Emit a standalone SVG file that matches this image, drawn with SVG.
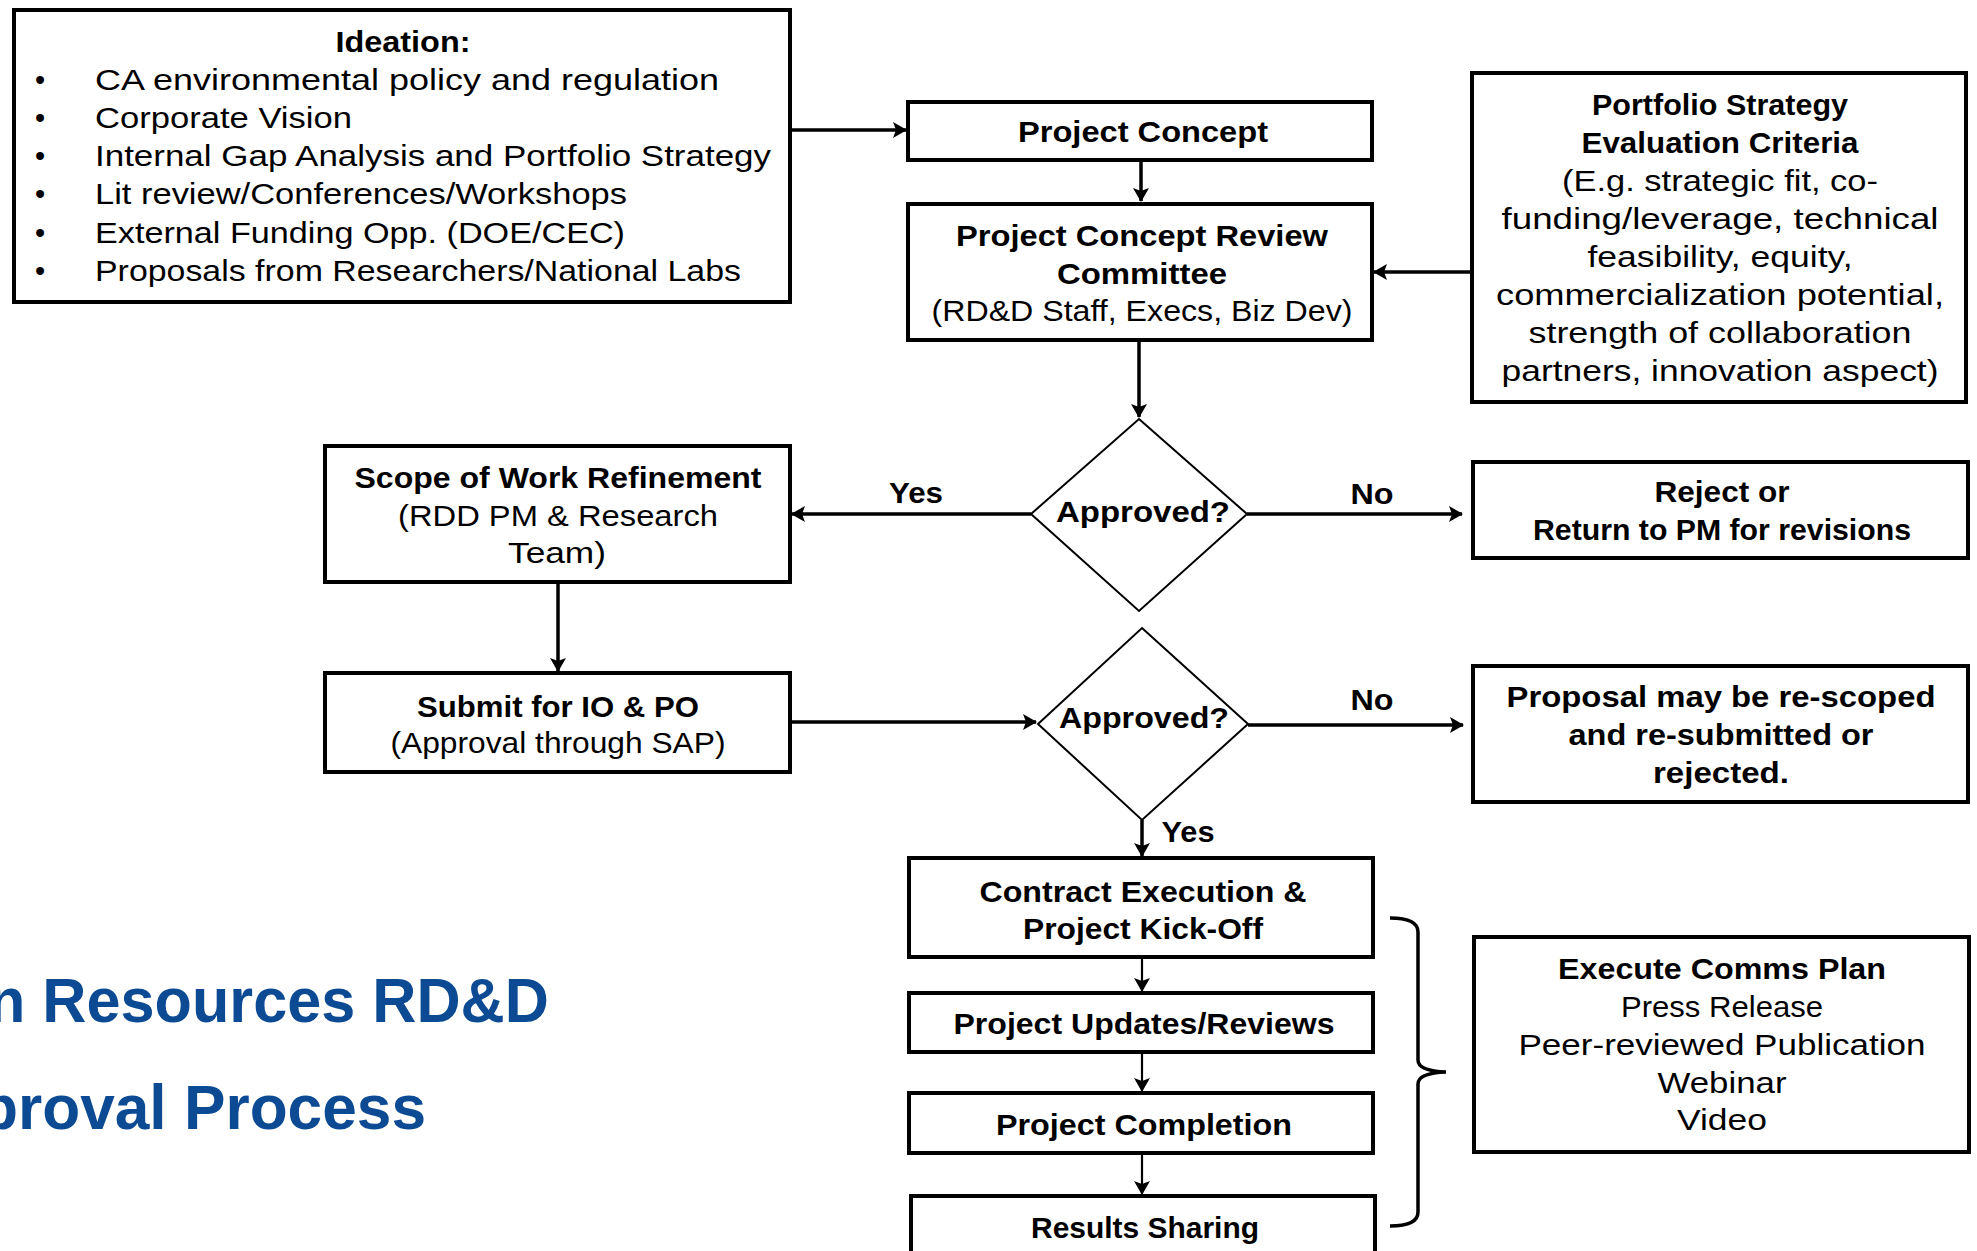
<svg xmlns="http://www.w3.org/2000/svg" width="1977" height="1251" viewBox="0 0 1977 1251">
  <defs>
    <marker id="ah" viewBox="0 0 14 16" refX="13" refY="8" markerWidth="14" markerHeight="16" markerUnits="userSpaceOnUse" orient="auto">
      <path d="M0,0 L14,8 L0,16 L3,8 Z" fill="#000"/>
    </marker>
    <style>
      .box { fill: #fff; stroke: #000; stroke-width: 4; }
      .dia { fill: #fff; stroke: #000; stroke-width: 2; }
      .b { font-family: "Liberation Sans", Arial, sans-serif; font-weight: bold; font-size: 30px; text-anchor: middle; fill: #000; }
      .r { font-family: "Liberation Sans", Arial, sans-serif; font-size: 29px; text-anchor: middle; fill: #000; }
      .l { text-anchor: start; }
      .edge { fill: none; stroke: #000; stroke-width: 3.5; marker-end: url(#ah); }
      .thin { stroke-width: 2.2; }
      .brace { fill: none; stroke: #000; stroke-width: 3.5; }
      .title { font-family: "Liberation Sans", Arial, sans-serif; font-weight: bold; font-size: 63px; fill: #0c4b94; }
    </style>
  </defs>

  <rect width="1977" height="1251" fill="#fff"/>

  <!-- heading, running off the left edge -->
  <g id="title">
    <text class="title" x="-12" y="1022" textLength="561" lengthAdjust="spacingAndGlyphs">n Resources RD&amp;D</text>
    <text class="title" x="-20" y="1129" textLength="446" lengthAdjust="spacingAndGlyphs">proval Process</text>
  </g>

  <!-- connectors -->
  <g id="connectors">
    <path class="edge" d="M790,130 H906"/>
    <path class="edge" d="M1141,160 V201"/>
    <path class="edge" d="M1472,272 H1374"/>
    <path class="edge" d="M1139,340 V417"/>
    <path class="edge" d="M1031,514 H792"/>
    <path class="edge" d="M1247,514 H1462"/>
    <path class="edge" d="M558,582 V671"/>
    <path class="edge" d="M790,722 H1036"/>
    <path class="edge" d="M1248,725 H1463"/>
    <path class="edge" d="M1142,820 V856"/>
    <path class="edge thin" d="M1142,957 V991"/>
    <path class="edge thin" d="M1142,1052 V1091"/>
    <path class="edge thin" d="M1142,1153 V1194"/>
    <path class="brace" d="M1390,918 Q1418,918 1418,932 V1060 Q1418,1071 1446,1072 Q1418,1073 1418,1084 V1212 Q1418,1226 1390,1226"/>
    <text class="b" x="916" y="503" textLength="54" lengthAdjust="spacingAndGlyphs">Yes</text>
    <text class="b" x="1372" y="504" textLength="43" lengthAdjust="spacingAndGlyphs">No</text>
    <text class="b" x="1372" y="710" textLength="43" lengthAdjust="spacingAndGlyphs">No</text>
    <text class="b" x="1188" y="842" textLength="53" lengthAdjust="spacingAndGlyphs">Yes</text>
  </g>

  <g id="ideation">
    <rect class="box" x="14" y="10" width="776" height="292"/>
    <text class="b" x="403" y="52" textLength="135" lengthAdjust="spacingAndGlyphs">Ideation:</text>
    <g class="r">
      <text x="40" y="90">•</text>
      <text x="40" y="128">•</text>
      <text x="40" y="166">•</text>
      <text x="40" y="204">•</text>
      <text x="40" y="243">•</text>
      <text x="40" y="281">•</text>
    </g>
    <text class="r l" x="95" y="90" textLength="624" lengthAdjust="spacingAndGlyphs">CA environmental policy and regulation</text>
    <text class="r l" x="95" y="128" textLength="257" lengthAdjust="spacingAndGlyphs">Corporate Vision</text>
    <text class="r l" x="95" y="166" textLength="676" lengthAdjust="spacingAndGlyphs">Internal Gap Analysis and Portfolio Strategy</text>
    <text class="r l" x="95" y="204" textLength="532" lengthAdjust="spacingAndGlyphs">Lit review/Conferences/Workshops</text>
    <text class="r l" x="95" y="243" textLength="530" lengthAdjust="spacingAndGlyphs">External Funding Opp. (DOE/CEC)</text>
    <text class="r l" x="95" y="281" textLength="646" lengthAdjust="spacingAndGlyphs">Proposals from Researchers/National Labs</text>
  </g>

  <g id="project-concept">
    <rect class="box" x="908" y="102" width="464" height="58"/>
    <text class="b" x="1143" y="142" textLength="250" lengthAdjust="spacingAndGlyphs">Project Concept</text>
  </g>

  <g id="review-committee">
    <rect class="box" x="908" y="204" width="464" height="136"/>
    <text class="b" x="1142" y="246" textLength="372" lengthAdjust="spacingAndGlyphs">Project Concept Review</text>
    <text class="b" x="1142" y="284" textLength="170" lengthAdjust="spacingAndGlyphs">Committee</text>
    <text class="r" x="1142" y="321" textLength="421" lengthAdjust="spacingAndGlyphs">(RD&amp;D Staff, Execs, Biz Dev)</text>
  </g>

  <g id="evaluation-criteria">
    <rect class="box" x="1472" y="73" width="494" height="329"/>
    <text class="b" x="1720" y="115" textLength="256" lengthAdjust="spacingAndGlyphs">Portfolio Strategy</text>
    <text class="b" x="1720" y="153" textLength="277" lengthAdjust="spacingAndGlyphs">Evaluation Criteria</text>
    <text class="r" x="1720" y="191" textLength="316" lengthAdjust="spacingAndGlyphs">(E.g. strategic fit, co-</text>
    <text class="r" x="1720" y="229" textLength="437" lengthAdjust="spacingAndGlyphs">funding/leverage, technical</text>
    <text class="r" x="1720" y="267" textLength="265" lengthAdjust="spacingAndGlyphs">feasibility, equity,</text>
    <text class="r" x="1720" y="305" textLength="448" lengthAdjust="spacingAndGlyphs">commercialization potential,</text>
    <text class="r" x="1720" y="343" textLength="383" lengthAdjust="spacingAndGlyphs">strength of collaboration</text>
    <text class="r" x="1720" y="381" textLength="437" lengthAdjust="spacingAndGlyphs">partners, innovation aspect)</text>
  </g>

  <g id="decision-1">
    <polygon class="dia" points="1139,419 1247,514 1139,611 1031,514"/>
    <text class="b" x="1143" y="522" textLength="174" lengthAdjust="spacingAndGlyphs">Approved?</text>
  </g>

  <g id="reject">
    <rect class="box" x="1473" y="462" width="495" height="96"/>
    <text class="b" x="1722" y="502" textLength="135" lengthAdjust="spacingAndGlyphs">Reject or</text>
    <text class="b" x="1722" y="540" textLength="378" lengthAdjust="spacingAndGlyphs">Return to  PM for revisions</text>
  </g>

  <g id="scope-refinement">
    <rect class="box" x="325" y="446" width="465" height="136"/>
    <text class="b" x="558" y="488" textLength="407" lengthAdjust="spacingAndGlyphs">Scope of Work Refinement</text>
    <text class="r" x="558" y="526" textLength="320" lengthAdjust="spacingAndGlyphs">(RDD PM &amp; Research</text>
    <text class="r" x="557" y="563" textLength="98" lengthAdjust="spacingAndGlyphs">Team)</text>
  </g>

  <g id="submit-io-po">
    <rect class="box" x="325" y="673" width="465" height="99"/>
    <text class="b" x="558" y="717" textLength="282" lengthAdjust="spacingAndGlyphs">Submit for IO &amp; PO</text>
    <text class="r" x="558" y="753" textLength="335" lengthAdjust="spacingAndGlyphs">(Approval through SAP)</text>
  </g>

  <g id="decision-2">
    <polygon class="dia" points="1142,628 1248,724 1142,820 1038,724"/>
    <text class="b" x="1144" y="728" textLength="170" lengthAdjust="spacingAndGlyphs">Approved?</text>
  </g>

  <g id="rescope">
    <rect class="box" x="1473" y="666" width="495" height="136"/>
    <text class="b" x="1721" y="707" textLength="429" lengthAdjust="spacingAndGlyphs">Proposal may be re-scoped</text>
    <text class="b" x="1721" y="745" textLength="305" lengthAdjust="spacingAndGlyphs">and re-submitted or</text>
    <text class="b" x="1721" y="783" textLength="136" lengthAdjust="spacingAndGlyphs">rejected.</text>
  </g>

  <g id="contract-execution">
    <rect class="box" x="909" y="858" width="464" height="99"/>
    <text class="b" x="1143" y="902" textLength="327" lengthAdjust="spacingAndGlyphs">Contract Execution &amp;</text>
    <text class="b" x="1143" y="939" textLength="240" lengthAdjust="spacingAndGlyphs">Project Kick-Off</text>
  </g>

  <g id="project-updates">
    <rect class="box" x="909" y="993" width="464" height="59"/>
    <text class="b" x="1144" y="1034" textLength="381" lengthAdjust="spacingAndGlyphs">Project Updates/Reviews</text>
  </g>

  <g id="project-completion">
    <rect class="box" x="909" y="1093" width="464" height="60"/>
    <text class="b" x="1144" y="1135" textLength="296" lengthAdjust="spacingAndGlyphs">Project Completion</text>
  </g>

  <g id="results-sharing">
    <rect class="box" x="911" y="1196" width="464" height="80"/>
    <text class="b" x="1145" y="1238" textLength="228" lengthAdjust="spacingAndGlyphs">Results Sharing</text>
  </g>

  <g id="comms-plan">
    <rect class="box" x="1474" y="937" width="495" height="215"/>
    <text class="b" x="1722" y="979" textLength="328" lengthAdjust="spacingAndGlyphs">Execute Comms Plan</text>
    <text class="r" x="1722" y="1017" textLength="202" lengthAdjust="spacingAndGlyphs">Press Release</text>
    <text class="r" x="1722" y="1055" textLength="407" lengthAdjust="spacingAndGlyphs">Peer-reviewed Publication</text>
    <text class="r" x="1722" y="1093" textLength="129" lengthAdjust="spacingAndGlyphs">Webinar</text>
    <text class="r" x="1722" y="1130" textLength="90" lengthAdjust="spacingAndGlyphs">Video</text>
  </g>
</svg>
